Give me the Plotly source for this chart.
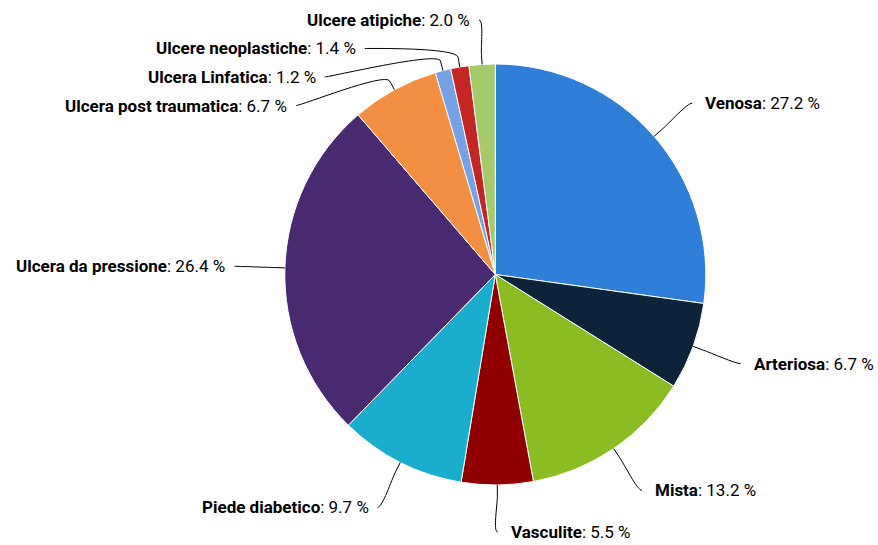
import math
import plotly.graph_objects as go

# data
labels = ["Venosa", "Arteriosa", "Mista", "Vasculite", "Piede diabetico",
          "Ulcera da pressione", "Ulcera post traumatica", "Ulcera Linfatica",
          "Ulcere neoplastiche", "Ulcere atipiche"]
values = [27.2, 6.7, 13.2, 5.5, 9.7, 26.4, 6.7, 1.2, 1.4, 2.0]
colors = ["#2f7ed8", "#0d233a", "#8bbc21", "#910000", "#1aadce",
          "#492970", "#f28f43", "#77a1e5", "#c42525", "#a6c96a"]

W, H = 878, 545
CX, CY, R = 495.3, 274.5, 210.5   # pie centre / radius in px
LABEL_DIST = 50.5
BREAK_DIST = 10
PAD_R, PAD_L = 12, 8
SPACING = 28.5
Y_TOP, Y_BOT = 20, 532


def px(x):
    return x / W


def py(y):
    return 1 - y / H


# natural label anchors from the slice mid angles (clockwise from 12 o'clock)
total = sum(values)
RL = R + LABEL_DIST
pts = []
acc = 0
for i, v in enumerate(values):
    theta = 2 * math.pi * (acc + v / 2) / total
    acc += v
    pts.append(dict(i=i, theta=theta, left=theta > math.pi,
                    ny=CY - RL * math.cos(theta)))

# simple anti-collision per side
for side in (False, True):
    grp = sorted([p for p in pts if p["left"] == side], key=lambda p: p["ny"])
    prev = None
    for p in grp:
        y = max(p["ny"], Y_TOP)
        if prev is not None:
            y = max(y, prev + SPACING)
        p["y"] = y
        prev = y
    nxt = None
    for p in reversed(grp):
        y = min(p["y"], Y_BOT)
        if nxt is not None:
            y = min(y, nxt - SPACING)
        p["y"] = y
        nxt = y


def get_x(y, left):
    a = math.asin(max(-1, min(1, (y - CY) / RL)))
    return CX + (-1 if left else 1) * math.cos(a) * RL


fig = go.Figure(go.Pie(
    labels=labels,
    values=values,
    sort=False,
    direction="clockwise",
    rotation=0,
    marker=dict(colors=colors, line=dict(color="#ffffff", width=1)),
    textinfo="none",
    hovertemplate="<b>%{label}</b>: %{value:.1f} %<extra></extra>",
    domain=dict(x=[px(CX - R), px(CX + R)], y=[py(CY + R), py(CY - R)]),
    showlegend=False,
))

shapes = []
annotations = []
for p in pts:
    i, th, left = p["i"], p["theta"], p["left"]
    y = p["y"]
    edge = y < Y_TOP + 2 or y > Y_BOT - 2
    x = get_x(p["ny"] if edge else y, left)
    tx, ty = CX + R * math.sin(th), CY - R * math.cos(th)
    bx = CX + (R + BREAK_DIST) * math.sin(th)
    by = CY - (R + BREAK_DIST) * math.cos(th)
    c1x = x + (5 if left else -5)
    path = "M {:.5f},{:.5f} C {:.5f},{:.5f} {:.5f},{:.5f} {:.5f},{:.5f} L {:.5f},{:.5f}".format(
        px(x), py(y), px(c1x), py(y), px(2 * bx - tx), py(2 * by - ty),
        px(bx), py(by), px(tx), py(ty))
    shapes.append(dict(type="path", xref="paper", yref="paper", path=path,
                       line=dict(color="#000000", width=1), layer="above"))
    annotations.append(dict(
        x=px(x - PAD_L if left else x + PAD_R), y=py(y),
        xref="paper", yref="paper",
        xanchor="right" if left else "left", yanchor="middle",
        text="<b>{}</b>: {:.1f} %".format(labels[i], values[i]),
        showarrow=False, borderpad=0,
        font=dict(family="Roboto", size=17, color="#000000"),
    ))

fig.update_layout(
    width=W, height=H,
    margin=dict(l=0, r=0, t=0, b=0),
    paper_bgcolor="#ffffff",
    plot_bgcolor="#ffffff",
    shapes=shapes,
    annotations=annotations,
)

# drop the default 8px body margin so the figure sits at the window origin
fig.write_html("out.html", config={"displayModeBar": False},
               post_script="document.body.style.margin='0';")
